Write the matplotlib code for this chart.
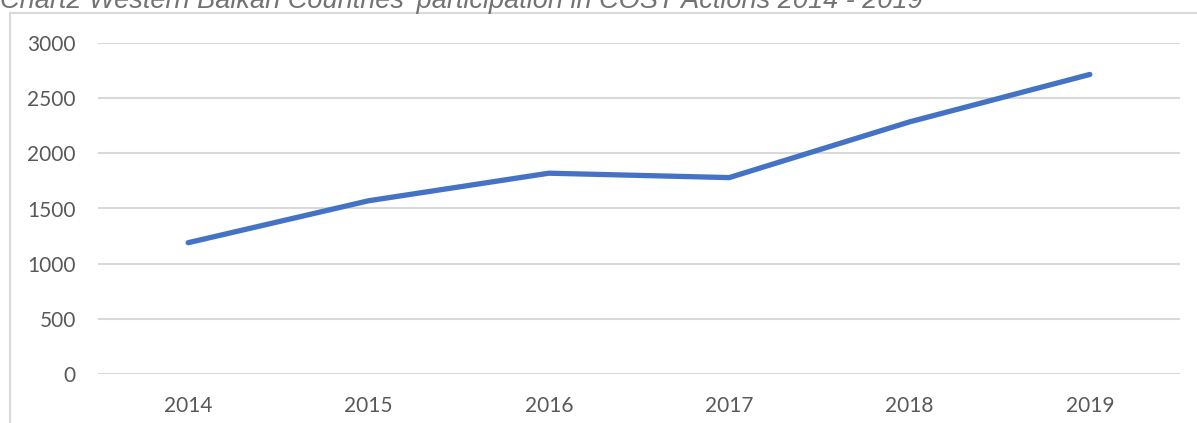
import matplotlib
matplotlib.use("Agg")
import matplotlib.pyplot as plt
from matplotlib.patches import Rectangle

years = ["2014", "2015", "2016", "2017", "2018", "2019"]
participants = [1190, 1570, 1820, 1780, 2285, 2715]
y_ticks = [0, 500, 1000, 1500, 2000, 2500, 3000]
title = "Chart2 Western Balkan Countries' participation in COST Actions 2014 - 2019"

W, H = 1197, 423
fig = plt.figure(figsize=(W / 100, H / 100), dpi=100)
fig.patch.set_facecolor("white")

# outer chart frame (extends past the right/bottom edges)
fig.patches.append(Rectangle((10 / W, -0.2), 1.2, 1 - 13 / H + 0.2,
                             transform=fig.transFigure, fill=False,
                             edgecolor="#D9D9D9", linewidth=1.5, clip_on=False))

ax = fig.add_axes([98 / W, 1 - 374 / H, (1180 - 98) / W, (374 - 43) / H])
x = list(range(len(years)))
ax.plot(x, participants, color="#4472C4", linewidth=3.8,
        solid_capstyle="round", solid_joinstyle="round", zorder=3)

ax.set_xlim(-0.5, len(years) - 0.5)
ax.set_ylim(0, 3000)
ax.set_yticks(y_ticks)
ax.set_xticks(x)
ax.set_xticklabels(years)
for s in ax.spines.values():
    s.set_visible(False)
ax.grid(axis="y", color="#D9D9D9", linewidth=1.5, zorder=0)
ax.tick_params(axis="both", length=0, labelcolor="#595959", labelsize=15)
ax.tick_params(axis="y", pad=16)
ax.tick_params(axis="x", pad=16)
for lbl in ax.get_xticklabels() + ax.get_yticklabels():
    lbl.set_family("Lato")

fig.text(0 / W, 1 - 8 / H, title, fontsize=19.5, style="italic",
         family="Liberation Sans", color="#737373", ha="left", va="baseline")

fig.savefig("out.png", dpi=100, facecolor="white")
